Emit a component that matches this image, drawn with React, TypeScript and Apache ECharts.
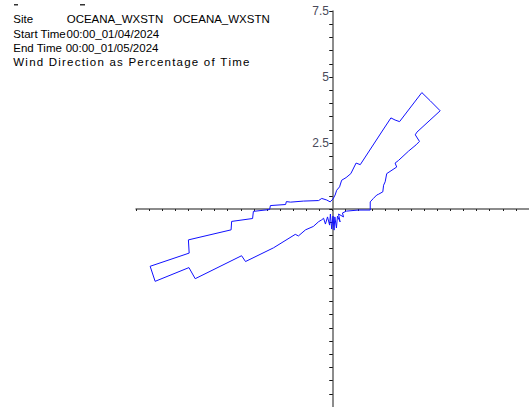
import React, { useEffect, useRef } from "react";
import * as echarts from "echarts";

// Wind rose outline (percentage of time), x = east component, y = north component
const roseX = [1.44, 1.44, 1.56, 1.69, 1.76, 1.92, 1.95, 2.01, 2.07, 2.45, 2.39, 2.52, 2.9, 3.19, 3.32, 3.16, 3.22, 4.11, 3.73, 3.41, 2.56, 2.39, 2.23, 1.95, 1.06, 0.9, 0.7, 0.52, 0.35, 0.27, 0.16, 0.1, 0.02, -0.09, -0.22, -0.41, -0.53, -1.11, -1.6, -1.76, -1.79, -2.37, -2.4, -3.02, -3.05, -3.85, -3.87, -5.5, -5.47, -6.96, -6.77, -5.48, -5.24, -3.47, -3.32, -2.25, -1.42, -1.3, -1.03, -0.73, -0.53, -0.41, -0.34, -0.27, -0.19, -0.11, -0.08, -0.03, 0.02, 0.06, 0.09, 0.15, 0.19, 0.29, 0.23, 0.42, 0.38, 0.53, 0.99];
const roseY = [-0.04, 0.27, 0.4, 0.53, 0.56, 0.65, 0.9, 1.03, 1.34, 1.59, 1.74, 1.84, 2.19, 2.43, 2.56, 2.81, 2.91, 3.72, 4.1, 4.41, 3.31, 3.37, 3.45, 3.03, 1.68, 1.74, 1.34, 1.19, 1.09, 0.84, 0.71, 0.53, 0.38, 0.27, 0.34, 0.4, 0.32, 0.3, 0.26, 0.28, 0.17, 0.13, -0.02, -0.09, -0.36, -0.47, -0.79, -1.17, -1.67, -2.17, -2.74, -2.22, -2.64, -1.77, -1.99, -1.47, -0.96, -1.02, -0.79, -0.66, -0.48, -0.41, -0.35, -0.57, -0.3, -0.61, -0.19, -0.76, -0.27, -0.8, -0.3, -0.72, -0.27, -0.49, -0.19, -0.3, -0.15, -0.08, -0.04];

const axisMin = -7.5;
const axisMax = 7.5;
const tickStep = 0.5;
const labelledTicks = [2.5, 5, 7.5];

const siteName = "OCEANA_WXSTN";
const startTime = "00:00_01/04/2024";
const endTime = "00:00_01/05/2024";
const titleText = "Wind Direction as Percentage of Time";

export default function App() {
  const ref = useRef<HTMLDivElement>(null);

  useEffect(() => {
    if (!ref.current) return;
    const chart = echarts.init(ref.current, undefined, { renderer: "svg" });
    const n = Math.min(roseX.length, roseY.length);
    const pts: number[][] = [];
    for (let i = 0; i < n; i++) pts.push([roseX[i], roseY[i]]);
    pts.push([roseX[0], roseY[0]]);

    const font = "Liberation Sans, Arial, sans-serif";
    const txt = (text: string, x: number, y: number) => ({
      type: "text",
      x,
      y,
      silent: true,
      style: {
        text,
        fontSize: 11.5,
        fontFamily: font,
        fill: "#000",
        textVerticalAlign: "middle",
        verticalAlign: "middle",
      },
    });

    // letter-spaced title line (words placed with extra tracking)
    const ctx = document.createElement("canvas").getContext("2d");
    const words = titleText.split(" ");
    const titleEls: any[] = [];
    const startX = 13.3;
    const endX = 249;
    if (ctx) {
      ctx.font = "11.5px Liberation Sans, Arial, sans-serif";
      const natural = ctx.measureText(titleText).width;
      const sp = (endX - startX - natural) / (titleText.length - 1);
      let pos = startX;
      let idx = 0;
      words.forEach((w, wi) => {
        for (const ch of w) {
          titleEls.push(txt(ch, pos, 62));
          pos += ctx.measureText(ch).width + sp;
          idx++;
        }
        if (wi < words.length - 1) {
          pos += ctx.measureText(" ").width + sp;
          idx++;
        }
      });
    } else {
      titleEls.push(txt(titleText, startX, 62));
    }

    const baseX = {
      type: "value",
      min: axisMin,
      max: axisMax,
      interval: tickStep,
      splitLine: { show: false },
      axisLabel: { show: false },
    };
    const baseY = {
      type: "value",
      min: axisMin,
      max: axisMax,
      interval: tickStep,
      splitLine: { show: false },
    };

    const option: any = {
      animation: false,
      grid: { left: 136, top: 11, width: 396, height: 396, containLabel: false },
      xAxis: [
        {
          ...baseX,
          axisLine: { show: true, onZero: true, onZeroAxisIndex: 0, lineStyle: { color: "#666", width: 1.5 } },
          axisTick: { show: true, inside: false, length: 2, lineStyle: { color: "#222", width: 1 } },
        },
        {
          ...baseX,
          axisLine: { show: false, onZero: true, onZeroAxisIndex: 0 },
          axisTick: { show: true, inside: true, length: 2, lineStyle: { color: "#222", width: 1 } },
        },
      ],
      yAxis: [
        {
          ...baseY,
          axisLine: { show: true, onZero: true, onZeroAxisIndex: 0, lineStyle: { color: "#666", width: 1.5 } },
          axisTick: { show: true, inside: false, length: 3, lineStyle: { color: "#111", width: 1 } },
          axisLabel: { show: false },
        },
        {
          ...baseY,
          axisLine: { show: false, onZero: true, onZeroAxisIndex: 0 },
          axisTick: { show: true, inside: true, length: 3, lineStyle: { color: "#111", width: 1 } },
          axisLabel: { show: false },
        },
        {
          ...baseY,
          position: "left",
          offset: -198,
          axisLine: { show: false, onZero: false },
          axisTick: { show: false },
          axisLabel: {
            show: true,
            margin: 5,
            fontSize: 12,
            fontFamily: font,
            color: "#4a4a5a",
            formatter: (v: number) => (labelledTicks.indexOf(v) >= 0 ? String(v) : ""),
          },
        },
      ],
      series: [
        {
          type: "line",
          data: pts,
          xAxisIndex: 0,
          yAxisIndex: 0,
          showSymbol: false,
          symbol: "none",
          smooth: false,
          lineStyle: { color: "#1010ff", width: 1 },
          silent: true,
        },
      ],
      graphic: [
        { type: "rect", shape: { x: 14, y: 4, width: 4, height: 1.5 }, style: { fill: "#333" } },
        { type: "rect", shape: { x: 80, y: 4, width: 5, height: 1.5 }, style: { fill: "#333" } },
        txt("Site", 13.3, 19.3),
        txt(siteName, 66.7, 19.3),
        txt(siteName, 173.3, 19.3),
        txt("Start Time", 13.3, 34),
        txt(startTime, 66.5, 34),
        txt("End Time", 13.3, 48),
        txt(endTime, 65.7, 48),
        ...titleEls,
      ],
    };
    chart.setOption(option);
    return () => chart.dispose();
  }, []);

  return <div ref={ref} style={{ width: 529, height: 407, position: "absolute", left: 0, top: 0 }} />;
}
